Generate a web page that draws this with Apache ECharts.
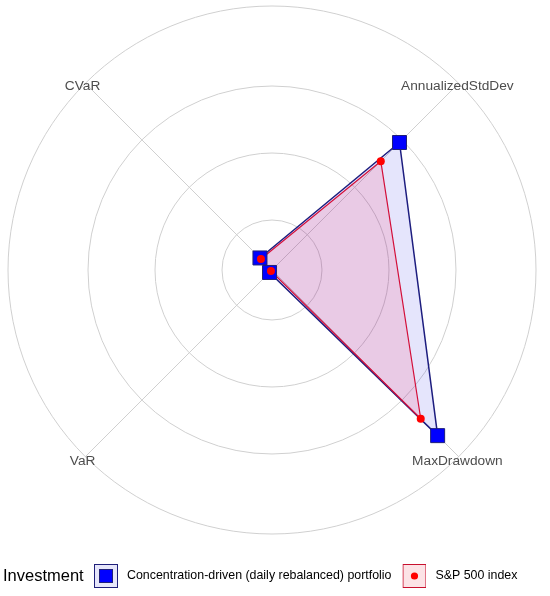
<!DOCTYPE html>
<html>
<head>
<meta charset="utf-8">
<script src="https://cdn.jsdelivr.net/npm/echarts@6/dist/echarts.min.js"></script>
<style>
  html, body { margin: 0; padding: 0; background: #fff; }
  #chart { width: 550px; height: 596px; }
</style>
</head>
<body>
<div id="chart"></div>
<script>
// risk metrics, axes listed counter-clockwise starting top-right
const metrics = ['AnnualizedStdDev', 'CVaR', 'VaR', 'MaxDrawdown'];
const portfolio = [0.2945, 0.0508, 0.0306, 0.375];
const sp500 = [0.255, 0.0487, 0.0276, 0.3393];
const seriesNames = ['Concentration-driven (daily rebalanced) portfolio', 'S&P 500 index'];
// radial scale: value at centre, value at outer ring, grid breaks
const rMin = 0.0254;
const rMax = 0.4194;
const gridBreaks = [0.1, 0.2, 0.3, 0.4194];

const center = [272, 270];
const R = 264;
const gridColor = '#d0d0d0';
const font = '"Liberation Sans", Arial, sans-serif';

const rOf = v => (v - rMin) / (rMax - rMin) * R;

const svg = s => 'image://data:image/svg+xml;utf8,' + encodeURIComponent(s);
const blueIcon = svg('<svg xmlns="http://www.w3.org/2000/svg" width="24" height="24">' +
  '<rect x="0.5" y="0.5" width="23" height="23" fill="#E6E6FA" stroke="#1F1F7A"/>' +
  '<rect x="5.5" y="5.5" width="13" height="13" fill="#0000FF" stroke="#1F1F7A"/></svg>');
const redIcon = svg('<svg xmlns="http://www.w3.org/2000/svg" width="24" height="24">' +
  '<rect x="0.5" y="0.5" width="23" height="23" fill="#FCE3E6" stroke="#C8102E"/>' +
  '<circle cx="12" cy="12" r="3.6" fill="#FF0000"/></svg>');

const chart = echarts.init(document.getElementById('chart'), null, { renderer: 'canvas' });

const polar = gridBreaks.map(b => ({ center: center, radius: rOf(b) }));
const angleAxis = gridBreaks.map((b, i) => ({
  polarIndex: i,
  type: 'value',
  axisLine: { show: true, lineStyle: { color: gridColor, width: 1 } },
  axisTick: { show: false },
  axisLabel: { show: false },
  splitLine: { show: false }
}));
const radiusAxis = gridBreaks.map((b, i) => ({ polarIndex: i, show: false }));

chart.setOption({
  animation: false,
  textStyle: { fontFamily: font },
  title: {
    text: 'Investment',
    left: 3,
    top: 568,
    padding: 0,
    textStyle: { fontSize: 16.5, fontWeight: 'normal', color: '#000', fontFamily: font }
  },
  legend: {
    left: 94,
    top: 564,
    padding: 0,
    itemWidth: 24,
    itemHeight: 24,
    itemGap: 11,
    selectedMode: false,
    textStyle: { fontSize: 12.4, color: '#000', padding: [0, 0, 0, 4], fontFamily: font },
    data: [
      { name: seriesNames[0], icon: blueIcon },
      { name: seriesNames[1], icon: redIcon }
    ]
  },
  polar: polar,
  angleAxis: angleAxis,
  radiusAxis: radiusAxis,
  radar: {
    center: center,
    radius: R,
    startAngle: 45,
    shape: 'circle',
    splitNumber: 1,
    indicator: metrics.map(m => ({ name: m, min: rMin, max: rMax })),
    nameGap: 1,
    axisName: {
      color: '#4d4d4d',
      fontSize: 13.7,
      fontFamily: font,
      align: 'center',
      verticalAlign: 'top',
      lineHeight: 8,
      padding: [0, 4, 0, 0]
    },
    axisLine: { lineStyle: { color: gridColor, width: 1 } },
    splitLine: { show: false },
    splitArea: { show: false }
  },
  series: [
    {
      type: 'radar',
      name: seriesNames[0],
      symbol: 'rect',
      symbolSize: 14,
      itemStyle: { color: '#0000FF', borderColor: '#1F1F7A', borderWidth: 1 },
      lineStyle: { color: '#1F1F7A', width: 1.5 },
      areaStyle: { color: 'rgba(0, 0, 230, 0.1)', opacity: 1 },
      data: [{ name: seriesNames[0], value: portfolio }]
    },
    {
      type: 'radar',
      name: seriesNames[1],
      symbol: 'circle',
      symbolSize: 8,
      itemStyle: { color: '#FF0000', borderWidth: 0 },
      lineStyle: { color: '#D0103A', width: 1.2 },
      areaStyle: { color: 'rgba(255, 0, 60, 0.12)', opacity: 1 },
      data: [{ name: seriesNames[1], value: sp500 }]
    }
  ]
});
</script>
</body>
</html>
